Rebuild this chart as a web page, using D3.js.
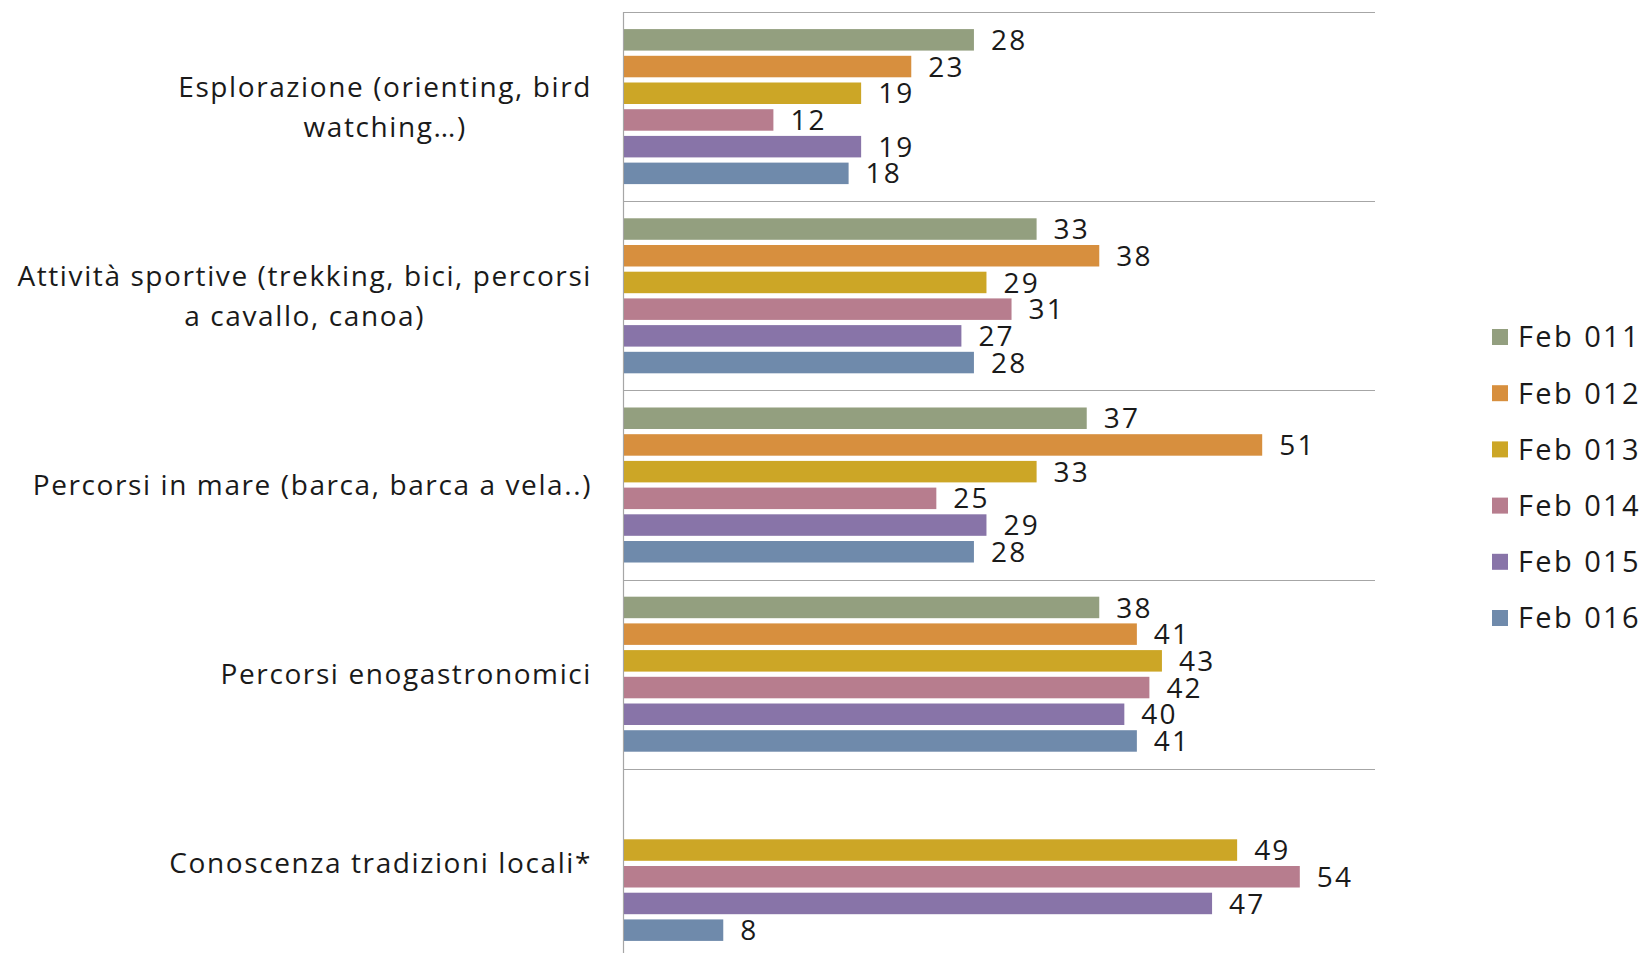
<!DOCTYPE html>
<html><head><meta charset="utf-8">
<script src="https://cdn.jsdelivr.net/npm/d3@7"></script>
<style>
html,body{margin:0;padding:0;background:#fff;}
svg{display:block;font-family:"Open Sans","Noto Sans",sans-serif;}
</style></head>
<body>
<svg id="chart" width="1648" height="953"></svg>
<script>
const categories = [
  ["Esplorazione (orienting, bird", "watching…)"],
  ["Attività sportive (trekking, bici, percorsi", "a cavallo, canoa)"],
  ["Percorsi in mare (barca, barca a vela..)"],
  ["Percorsi enogastronomici"],
  ["Conoscenza tradizioni locali*"]
];
const seriesNames = ["Feb 011","Feb 012","Feb 013","Feb 014","Feb 015","Feb 016"];
const feb011 = [28, 33, 37, 38, null];
const feb012 = [23, 38, 51, 41, null];
const feb013 = [19, 29, 33, 43, 49];
const feb014 = [12, 31, 25, 42, 54];
const feb015 = [19, 27, 29, 40, 47];
const feb016 = [18, 28, 28, 41, 8];
const seriesValues = [feb011, feb012, feb013, feb014, feb015, feb016];
const colors = ["#939F7F","#D78F3E","#CCA626","#B77D8E","#8874A8","#6F8AAB"];

(function () {
const svg = d3.select("#chart");
const plotL = 623, plotR = 1375, plotT = 12, groupH = 189.2;
const catIdx = d3.range(categories.length);
const x = d3.scaleLinear().domain([0, 60]).range([plotL, plotR]);
const y0 = d3.scaleBand().domain(catIdx).range([plotT, plotT + groupH * categories.length]).padding(0);
const y1 = d3.scaleBand().domain(d3.range(seriesNames.length)).range([0, y0.bandwidth()])
  .paddingInner(0.195).paddingOuter(0.64);

const bounds = catIdx.map(i => y0(i)).concat([y0.range()[1]]);
svg.append("g").selectAll("line").data(bounds).join("line")
  .attr("x1", plotL).attr("x2", plotR)
  .attr("y1", d => Math.round(d) + 0.5).attr("y2", d => Math.round(d) + 0.5)
  .attr("stroke", "#a6a6a6").attr("stroke-width", 1.2);
svg.append("line").attr("x1", plotL + 0.5).attr("x2", plotL + 0.5)
  .attr("y1", plotT).attr("y2", y0.range()[1])
  .attr("stroke", "#a6a6a6").attr("stroke-width", 1.2);

const flat = [];
seriesValues.forEach((vals, s) => vals.forEach((v, c) => { if (v != null) flat.push({s, c, v}); }));
svg.append("g").selectAll("rect").data(flat).join("rect")
  .attr("x", plotL + 1)
  .attr("y", d => y0(d.c) + y1(d.s))
  .attr("width", d => x(d.v) - plotL - 1)
  .attr("height", y1.bandwidth())
  .attr("fill", d => colors[d.s]);

svg.append("g").selectAll("text").data(flat).join("text")
  .attr("x", d => x(d.v) + 17)
  .attr("y", d => y0(d.c) + y1(d.s) + y1.bandwidth() / 2)
  .attr("dy", "0.36em")
  .attr("font-size", 28)
  .attr("letter-spacing", 2.2)
  .attr("fill", "#1a1a1a")
  .text(d => d.v);

const labelRight = 592, lineH = 40;
catIdx.forEach(i => {
  const lines = categories[i];
  const g = svg.append("g");
  const texts = lines.map((ln, k) => g.append("text")
    .attr("font-size", 28).attr("letter-spacing", 1.6).attr("fill", "#1a1a1a").attr("text-anchor", "middle")
    .attr("y", y0(i) + y0.bandwidth() / 2 + (k - (lines.length - 1) / 2) * lineH)
    .attr("dy", "0.36em").text(ln));
  const maxW = d3.max(texts, t => t.node().getComputedTextLength());
  texts.forEach(t => t.attr("x", labelRight - maxW / 2));
});

const leg = svg.append("g");
seriesNames.forEach((n, i) => {
  const yy = 337 + i * 56.2;
  leg.append("rect").attr("x", 1492).attr("y", yy - 8).attr("width", 16).attr("height", 16).attr("fill", colors[i]);
  leg.append("text").attr("x", 1518).attr("y", yy).attr("dy", "0.36em")
    .attr("font-size", 29).attr("letter-spacing", 2.4).attr("fill", "#1a1a1a").text(n);
});
})();
</script>
</body></html>
